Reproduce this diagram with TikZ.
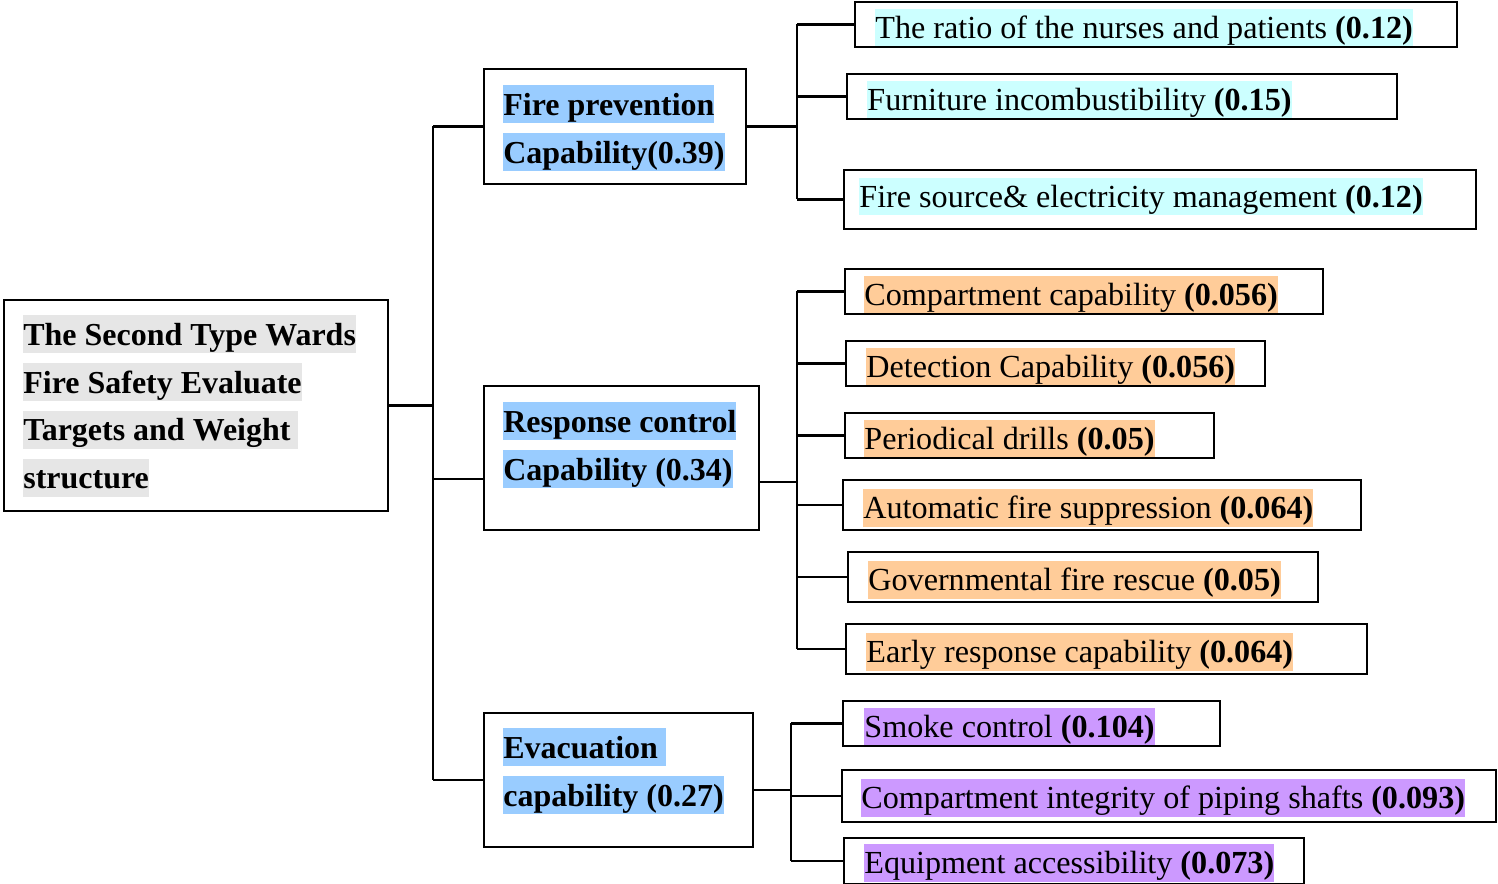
\documentclass[tikz,border=0pt]{standalone}
\usepackage{fontspec}
\setmainfont{Liberation Serif}
\usepackage{xcolor}
\usetikzlibrary{fit}
\usetikzlibrary{calc}
\definecolor{greyhl}{HTML}{E6E6E6}
\definecolor{bluehl}{HTML}{99CCFF}
\definecolor{cyanhl}{HTML}{CCFFFF}
\definecolor{orangehl}{HTML}{FFCC99}
\definecolor{purplehl}{HTML}{CC99FF}
\newcommand{\hl}[2]{{\setlength{\fboxsep}{0pt}\colorbox{#1}{\rule[-4.5pt]{0pt}{21.5pt}#2}}}
\tikzset{
    box/.style = {draw=black, line width=1.1pt, inner sep=0pt},
    headtext/.style = {align=left, inner sep=0pt, anchor=north west, font=\bfseries\fontsize{18.2}{27.2}\selectfont},
    leaftext/.style = {inner sep=0pt, anchor=west, text height=17pt, text depth=4.5pt, font=\fontsize{18.3}{27.2}\selectfont},
    link/.style = {line width=1.2pt}
}

\begin{document}
\begin{tikzpicture}[x=0.02cm, y=-0.02cm]
    \useasboundingbox (0,0) rectangle (1498,884);

    % root
    \node [box, fit={(4,300) (388,511)}] (root) {};
    \node [headtext] (roottxt) at ($(root.north west)+(20,16)$)
        {\hl{greyhl}{The Second Type Wards}\\ \hl{greyhl}{Fire Safety Evaluate}\\
         \hl{greyhl}{Targets and Weight\ }\\ \hl{greyhl}{structure}};

    % second level
    \node [box, fit={(484,69) (746,184)}] (fire) {};
    \node [headtext] (firetxt) at ($(fire.north west)+(20,17)$)
        {\hl{bluehl}{Fire prevention}\\ \hl{bluehl}{Capability(0.39)}};
    \node [box, fit={(484,386) (759,530)}] (resp) {};
    \node [headtext] (resptxt) at ($(resp.north west)+(20,17)$)
        {\hl{bluehl}{Response control}\\ \hl{bluehl}{Capability (0.34)}};
    \node [box, fit={(484,713) (753,847)}] (evac) {};
    \node [headtext] (evactxt) at ($(evac.north west)+(20,16)$)
        {\hl{bluehl}{Evacuation\ }\\ \hl{bluehl}{capability (0.27)}};

    % fire prevention leaves
    \node [box, fit={(855,2) (1457,47)}] (l1) {};
    \node [leaftext, fill=cyanhl] (t1) at ($(l1.west)+(21,3)$) {The ratio of the nurses and patients \textbf{(0.12)}};
    \node [box, fit={(847,74) (1397,119)}] (l2) {};
    \node [leaftext, fill=cyanhl] (t2) at ($(l2.west)+(21,3)$) {Furniture incombustibility \textbf{(0.15)}};
    \node [box, fit={(844,170) (1476,229)}] (l3) {};
    \node [leaftext, fill=cyanhl] (t3) at ($(l3.west)+(16,-3)$) {Fire source\& electricity management \textbf{(0.12)}};

    % response control leaves
    \node [box, fit={(845,269) (1323,314)}] (l4) {};
    \node [leaftext, fill=orangehl] (t4) at ($(l4.west)+(20,3)$) {Compartment capability \textbf{(0.056)}};
    \node [box, fit={(846,341) (1265,386)}] (l5) {};
    \node [leaftext, fill=orangehl] (t5) at ($(l5.west)+(21,3)$) {Detection Capability \textbf{(0.056)}};
    \node [box, fit={(845,413) (1214,458)}] (l6) {};
    \node [leaftext, fill=orangehl] (t6) at ($(l6.west)+(20,3)$) {Periodical drills \textbf{(0.05)}};
    \node [box, fit={(843,480) (1361,530)}] (l7) {};
    \node [leaftext, fill=orangehl] (t7) at ($(l7.west)+(21,3)$) {Automatic fire suppression \textbf{(0.064)}};
    \node [box, fit={(848,552) (1318,602)}] (l8) {};
    \node [leaftext, fill=orangehl] (t8) at ($(l8.west)+(21,3)$) {Governmental fire rescue \textbf{(0.05)}};
    \node [box, fit={(846,624) (1367,674)}] (l9) {};
    \node [leaftext, fill=orangehl] (t9) at ($(l9.west)+(21,3)$) {Early response capability \textbf{(0.064)}};

    % evacuation leaves
    \node [box, fit={(843,701) (1220,746)}] (l10) {};
    \node [leaftext, fill=purplehl] (t10) at ($(l10.west)+(22,3)$) {Smoke control \textbf{(0.104)}};
    \node [box, fit={(842,770) (1496,822)}] (l11) {};
    \node [leaftext, fill=purplehl] (t11) at ($(l11.west)+(20,2)$) {Compartment integrity of piping shafts \textbf{(0.093)}};
    \node [box, fit={(844,838) (1304,884)}] (l12) {};
    \node [leaftext, fill=purplehl] (t12) at ($(l12.west)+(21,2)$) {Equipment accessibility \textbf{(0.073)}};

    % connectors
    \coordinate (rbus) at (433,405);
    \coordinate (rj) at (433,479);
    \coordinate (fbus) at (797,122);
    \coordinate (sbus) at (797,482);
    \coordinate (ebus) at (791,790);

    \draw [link] (root.east) -- (root.east -| rbus);
    \draw [link] (fire.west -| rbus) -- (evac.west -| rbus);
    \draw [link] (fire.west -| rbus) -- (fire.west);
    \draw [link] (rj) -- (rj -| resp.west);
    \draw [link] (evac.west -| rbus) -- (evac.west);

    \draw [link] (fire.east) -- (fire.east -| fbus);
    \draw [link] (l1.west -| fbus) -- (l3.west -| fbus);
    \foreach \n in {l1,l2,l3}
        \draw [link] (\n.west -| fbus) -- (\n.west);

    \draw [link] (sbus -| resp.east) -- (sbus);
    \draw [link] (l4.west -| sbus) -- (l9.west -| sbus);
    \foreach \n in {l4,l5,l6,l7,l8,l9}
        \draw [link] (\n.west -| sbus) -- (\n.west);

    \draw [link] (ebus -| evac.east) -- (ebus);
    \draw [link] (l10.west -| ebus) -- (l12.west -| ebus);
    \foreach \n in {l10,l11,l12}
        \draw [link] (\n.west -| ebus) -- (\n.west);
\end{tikzpicture}
\end{document}
